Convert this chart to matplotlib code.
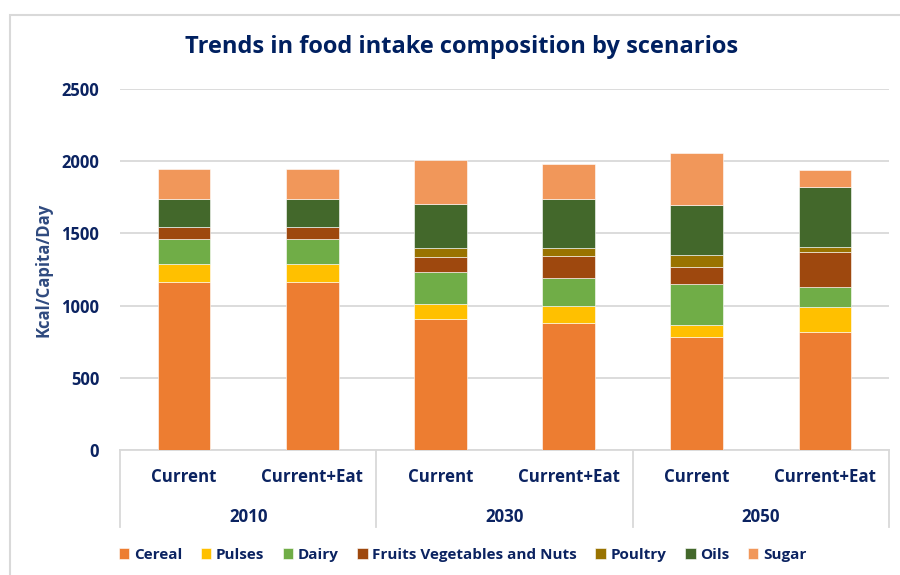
import matplotlib.pyplot as plt
from matplotlib.patches import Rectangle

plt.rcParams['font.family'] = ['Open Sans', 'DejaVu Sans']

scenarios = ['Current', 'Current+Eat', 'Current', 'Current+Eat', 'Current', 'Current+Eat']
years = ['2010', '2030', '2050']
foods = ['Cereal', 'Pulses', 'Dairy', 'Fruits Vegetables and Nuts', 'Poultry', 'Oils', 'Sugar']

cereal = [1160, 1160, 907, 877, 784, 817]
pulses = [125, 125, 103, 120, 79, 175]
dairy = [175, 175, 220, 193, 286, 138]
fruits = [85, 85, 106, 153, 115, 240]
poultry = [0, 0, 66, 53, 85, 33]
oils = [195, 195, 303, 339, 349, 419]
sugar = [205, 205, 306, 249, 360, 116]

series = [cereal, pulses, dairy, fruits, poultry, oils, sugar]
colors = ['#ED7D31', '#FFC000', '#70AD47', '#9E480E', '#997300', '#43682B', '#F1975A']

navy = '#0B2361'
grid_col = '#D9D9D9'

fig = plt.figure(figsize=(9, 5.75), dpi=100)
fig.patches.append(Rectangle((10 / 900, -0.1), 1.2, 1 - 15 / 575 + 0.1, transform=fig.transFigure,
                             fill=False, edgecolor=grid_col, lw=1.5))
ax = fig.add_axes([120 / 900, 1 - 450 / 575, 769 / 900, 361 / 575])

x = list(range(len(scenarios)))
bottom = [0] * len(scenarios)
for name, vals, c in zip(foods, series, colors):
    ax.bar(x, vals, 0.41, bottom=bottom, color=c, label=name, zorder=3,
           edgecolor='white', linewidth=0.4)
    bottom = [b + v for b, v in zip(bottom, vals)]

ax.set_xlim(-0.5, 5.5)
ax.set_ylim(0, 2500)
ax.set_yticks(range(0, 2501, 500))
ax.yaxis.grid(True, color=grid_col, lw=1.3, zorder=0)
ax.set_xticks([])
ax.tick_params(axis='y', length=0, pad=15, labelsize=12, labelcolor=navy)
for t in ax.get_yticklabels():
    t.set_fontweight('bold')
for s in ['top', 'right', 'left']:
    ax.spines[s].set_visible(False)
ax.spines['bottom'].set_color(grid_col)
ax.spines['bottom'].set_linewidth(1.3)

ax.set_ylabel('Kcal/Capita/Day', color='#2F4A7F', fontsize=12, fontweight='bold', labelpad=6)

# grouped category axis
ytr = ax.get_xaxis_transform()
for xv in [-0.5, 1.5, 3.5, 5.5]:
    ax.plot([xv, xv], [0, -0.213], transform=ytr, color=grid_col, lw=1.3, clip_on=False)
for xi, lab in zip(x, scenarios):
    ax.text(xi, -0.075, lab, transform=ytr, ha='center', va='center',
            fontsize=12.2, fontweight='bold', color=navy)
for i, yr in enumerate(years):
    ax.text(2 * i + 0.5, -0.186, yr, transform=ytr, ha='center', va='center',
            fontsize=12.2, fontweight='bold', color=navy)

fig.text(0.513, 1 - 47 / 575, 'Trends in food intake composition by scenarios',
         ha='center', va='center', fontsize=17, fontweight='bold', color='#002060')

leg = fig.legend(loc='center', bbox_to_anchor=(0.514, 1 - 555 / 575), ncol=7, frameon=False,
                 handlelength=0.7, handleheight=0.7, handletextpad=0.3, columnspacing=1.2,
                 prop={'size': 11, 'weight': 'bold'})
for t in leg.get_texts():
    t.set_color(navy)

fig.savefig('out.png', dpi=100)
